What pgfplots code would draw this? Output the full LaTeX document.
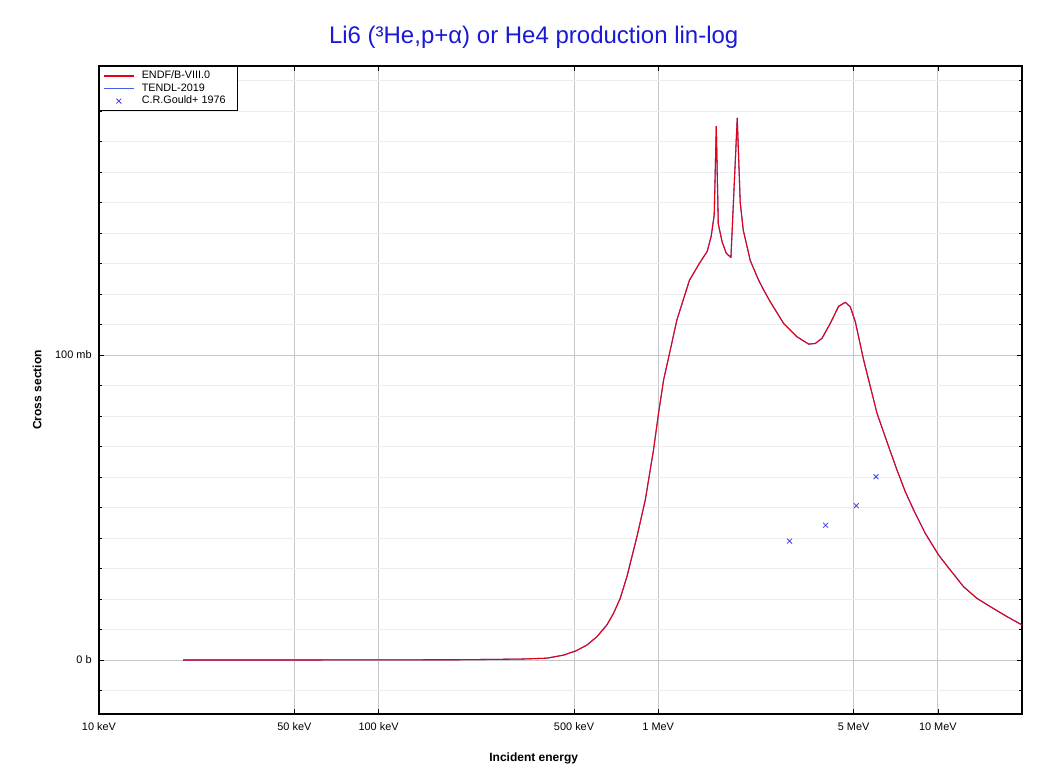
\documentclass[border=0pt]{standalone}
\usepackage{pgfplots}
\pgfplotsset{compat=1.18}
\usepackage{fontspec}
\setmainfont{Liberation Sans}
\definecolor{endfred}{RGB}{230,0,22}
\definecolor{tendlblue}{RGB}{70,100,225}
\definecolor{exfor}{RGB}{60,60,235}
\definecolor{titleblue}{RGB}{25,25,215}

\begin{document}
\begin{tikzpicture}
\begin{axis}[
    scale only axis,
    width=692.25pt, height=486pt,
    xmode=log,
    xmin=0.01, xmax=20,
    ymin=-17.7, ymax=194.8,
    xtick={0.01,0.05,0.1,0.5,1,5,10},
    xticklabels={10 keV,50 keV,100 keV,500 keV,1 MeV,5 MeV,10 MeV},
    ytick={0,100},
    yticklabels={0 b,100 mb},
    minor ytick={-10,10,20,30,40,50,60,70,80,90,110,120,130,140,150,160,170,180,190},
    grid=both,
    major grid style={draw=black!22, line width=0.6pt},
    minor grid style={draw=black!7, line width=0.6pt},
    tick align=inside,
    major tick length=4pt,
    minor tick length=2.5pt,
    tick style={black, line width=0.5pt},
    axis line style={line width=0.8pt},
    /pgf/number format/assume math mode=true,
    tick label style={font=\fontsize{8.2pt}{9pt}\selectfont},
    xticklabel style={yshift=-3pt},
    yticklabel style={xshift=-2pt},
    xlabel={\textbf{Incident energy}},
    ylabel={\textbf{Cross section}},
    label style={font=\fontsize{9pt}{10pt}\selectfont},
    xlabel style={at={(axis description cs:0.471,-0.068)}, anchor=center},
    ylabel style={at={(axis description cs:-0.067,0.5)}, anchor=center},
    title={Li6 (³He,p+α) or He4 production lin-log},
    title style={at={(axis description cs:0.471,1.048)}, anchor=center, yshift=-7.5pt,
        font=\fontsize{18pt}{20pt}\selectfont, text=titleblue},
    legend style={at={(axis description cs:0,1)}, anchor=north west,
        font=\fontsize{8.1pt}{9pt}\selectfont, draw=black,
        inner xsep=3pt, inner ysep=1.5pt, row sep=-1.8pt,
        cells={anchor=west}},
    legend image code/.code={
        \draw[mark repeat=2, mark phase=2, #1]
            plot coordinates {(0pt,0pt) (11pt,0pt) (22pt,0pt)};
    },
    every axis legend/.append style={nodes={inner xsep=5.5pt}},
]
% TENDL-2019 (drawn below, coincides with ENDF)
\addplot[draw=tendlblue, line width=0.8pt, line join=round, forget plot] coordinates {
(0.02,0) (0.05,0.0) (0.1,0.05) (0.2,0.1) (0.321,0.3) (0.3997,0.6) (0.4583,1.6)
(0.508,3.0) (0.5556,4.9) (0.603,7.6) (0.6553,11.5) (0.692,15.3) (0.7312,20.2)
(0.7727,27.3) (0.839,40.4) (0.899,52.5)
(0.962,68.9) (1.0025,80.9) (1.045,91.8) (1.104,101.6) (1.166,111.5) (1.294,124.6)
(1.413,130.5) (1.497,134) (1.547,139) (1.586,146) (1.613,175) (1.640,143)
(1.694,137) (1.751,133.4) (1.820,132) (1.917,177.7) (1.965,150) (2.014,141)
(2.134,131) (2.285,124.6) (2.394,121) (2.515,117.5) (2.808,110.4) (3.135,106) (3.450,103.6)
(3.646,103.8) (3.852,105.5) (4.125,110.4) (4.418,116) (4.668,117.3) (4.864,115.8)
(5.070,110.9) (5.238,104.9) (5.428,98.4) (6.061,80.9) (6.668,70) (7.145,62.3) (7.65,55.2)
(8.194,49.2) (9.021,41.5) (10.07,34.4) (11.08,29.5) (12.37,24) (13.81,20.2)
(15.41,17.5) (17.69,14.2) (20.0,11.5)
};
% ENDF/B-VIII.0
\addplot[draw=endfred, line width=0.8pt, line join=round,
    legend image post style={line width=1.2pt}] coordinates {
(0.02,0) (0.05,0.0) (0.1,0.05) (0.2,0.1) (0.321,0.3) (0.3997,0.6) (0.4583,1.6)
(0.508,3.0) (0.5556,4.9) (0.603,7.6) (0.6553,11.5) (0.692,15.3) (0.7312,20.2)
(0.7727,27.3) (0.839,40.4) (0.899,52.5)
(0.962,68.9) (1.0025,80.9) (1.045,91.8) (1.104,101.6) (1.166,111.5) (1.294,124.6)
(1.413,130.5) (1.497,134) (1.547,139) (1.586,146) (1.613,175) (1.640,143)
(1.694,137) (1.751,133.4) (1.820,132) (1.917,177.7) (1.965,150) (2.014,141)
(2.134,131) (2.285,124.6) (2.394,121) (2.515,117.5) (2.808,110.4) (3.135,106) (3.450,103.6)
(3.646,103.8) (3.852,105.5) (4.125,110.4) (4.418,116) (4.668,117.3) (4.864,115.8)
(5.070,110.9) (5.238,104.9) (5.428,98.4) (6.061,80.9) (6.668,70) (7.145,62.3) (7.65,55.2)
(8.194,49.2) (9.021,41.5) (10.07,34.4) (11.08,29.5) (12.37,24) (13.81,20.2)
(15.41,17.5) (17.69,14.2) (20.0,11.5)
};
\addlegendentry{ENDF/B-VIII.0}
\addlegendimage{legend image code/.code={\draw[tendlblue, line width=1.4pt] (0pt,0pt) -- (22pt,0pt);}}
\addlegendentry{TENDL-2019}
\addplot[exfor, only marks, mark=x, mark size=2.6pt, line width=0.6pt] coordinates {
(2.95,39.0) (3.97,44.2) (5.11,50.6) (6.01,60.1)
};
\addlegendentry{C.R.Gould+ 1976}
\end{axis}
\path (current axis.south west) ++(-74.25pt,-45pt) coordinate (bbA);
\path (current axis.north east) ++(20.25pt,49.5pt) coordinate (bbB);
\path (bbA) rectangle (bbB);
\end{tikzpicture}
\end{document}
